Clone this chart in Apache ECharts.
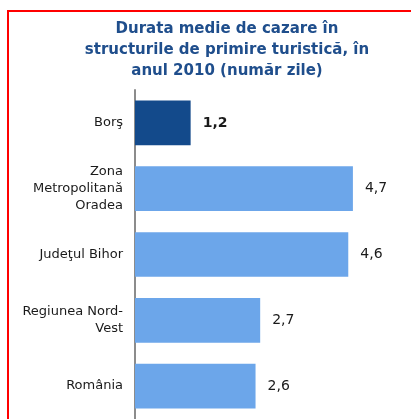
<!DOCTYPE html>
<html>
<head>
<meta charset="utf-8">
<title>Durata medie de cazare</title>
<script src="https://cdn.jsdelivr.net/npm/echarts@6/dist/echarts.min.js"></script>
<style>
    body { margin: 0; background: #ffffff; }
    #draw_area { width: 411px; height: 419px; }
</style>
</head>
<body>
<div id="draw_area"></div>
<script>
"use strict";

// categorii (de sus in jos) si valorile lor
var categories = ["Borş", "Zona\nMetropolitană\nOradea", "Judeţul Bihor", "Regiunea Nord-\nVest", "România"];
var values = [1.2, 4.7, 4.6, 2.7, 2.6];
var valueLabels = ["1,2", "4,7", "4,6", "2,7", "2,6"];

var titleText = "Durata medie de cazare în\nstructurile de primire turistică, în\nanul 2010 (număr zile)";

var chart_object = {};

function build_data() {
    var data = [];
    for (var i = 0; i < values.length; i++) {
        var item = { value: values[i], label: valueLabels[i] };
        data.push(item);
    }
    // primul element (Borş) e evidentiat cu albastru inchis si eticheta bold
    data[0].itemStyle = { color: "#134A8B" };
    data[0].label = { fontWeight: "bold" };
    return data;
}

const option = {
    animation: false,
    title: {
        text: titleText,
        left: 222,
        top: 14,
        textAlign: "center",
        textStyle: {
            fontFamily: "DejaVu Sans",
            fontSize: 15,
            fontWeight: "bold",
            color: "#1F4E8C",
            lineHeight: 21
        }
    },
    grid: {
        left: 135,
        top: 90,
        width: 255,
        height: 332,
        containLabel: false
    },
    xAxis: {
        type: "value",
        min: 0,
        max: 5.5,
        show: false
    },
    yAxis: {
        type: "category",
        inverse: true,
        data: categories,
        axisTick: { show: false },
        axisLine: {
            show: true,
            lineStyle: { color: "#8C8C8C", width: 2 }
        },
        axisLabel: {
            margin: 12,
            fontFamily: "DejaVu Sans",
            fontSize: 13,
            lineHeight: 17,
            color: "#1A1A1A",
            align: "right"
        }
    },
    series: [
        {
            type: "bar",
            barCategoryGap: "32%",
            itemStyle: { color: "#6CA6EA" },
            label: {
                show: true,
                position: "right",
                distance: 12,
                fontFamily: "DejaVu Sans",
                fontSize: 14,
                color: "#1A1A1A",
                formatter: function (x) { return valueLabels[x.dataIndex]; }
            },
            data: build_data()
        }
    ],
    graphic: [
        {
            // rama rosie a figurii (continua in afara cadrului)
            type: "rect",
            silent: true,
            shape: { x: 8, y: 11, width: 420, height: 420 },
            style: { fill: "none", stroke: "#FF0000", lineWidth: 2 }
        }
    ]
};

function show_graph(option, chart_object, element_name) {
    const container = document.getElementById(element_name);
    chart_object = echarts.init(container, null, { renderer: "canvas" });
    chart_object.setOption(option);
    return chart_object;
}

chart_object = show_graph(option, chart_object, "draw_area");
</script>
</body>
</html>
